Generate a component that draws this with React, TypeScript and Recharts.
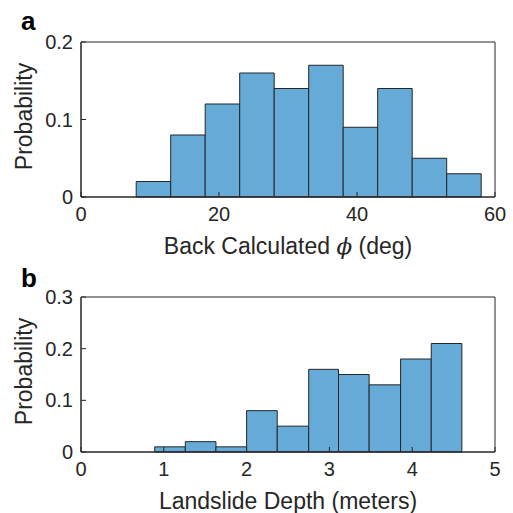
import React from 'react';
import {
  ComposedChart,
  XAxis,
  YAxis,
  ReferenceArea,
} from 'recharts';

// panel a: back calculated friction angle (deg)
const phiEdges = [8, 13, 18, 23, 28, 33, 38, 43, 48, 53, 58];
const phiProb = [0.02, 0.08, 0.12, 0.16, 0.14, 0.17, 0.09, 0.14, 0.05, 0.03];
const phiTicksX = [0, 20, 40, 60];
const phiTicksY = [0, 0.1, 0.2];

// panel b: landslide depth (m)
const depthEdges = [0.89, 1.26, 1.63, 2.0, 2.37, 2.75, 3.11, 3.48, 3.86, 4.23, 4.6];
const depthProb = [0.01, 0.02, 0.01, 0.08, 0.05, 0.16, 0.15, 0.13, 0.18, 0.21];
const depthTicksX = [0, 1, 2, 3, 4, 5];
const depthTicksY = [0, 0.1, 0.2, 0.3];

const INK = '#262626';
const FACE = '#66AAD7';
const FONT = '"Liberation Sans", Arial, sans-serif';

const toBins = (edges: number[], probs: number[]) =>
  probs.map((p, i) => ({ lo: edges[i], hi: edges[i + 1], mid: (edges[i] + edges[i + 1]) / 2, p }));

const XTick = (props: any) => {
  const { x, y, payload } = props;
  return (
    <text x={x} y={y + 27} textAnchor="middle" fill={INK} fontSize={20} fontFamily={FONT}>
      {payload.value}
    </text>
  );
};

const YTick = (props: any) => {
  const { y, payload } = props;
  return (
    <text x={73} y={y + 7} textAnchor="end" fill={INK} fontSize={20} fontFamily={FONT}>
      {payload.value}
    </text>
  );
};

const xTitle = (content: React.ReactNode) => (props: any) => {
  const { x, y, width } = props.viewBox;
  return (
    <text x={x + width / 2} y={y + 57} textAnchor="middle" fill={INK} fontSize={23} fontFamily={FONT}>
      {content}
    </text>
  );
};

const yTitle = (props: any) => {
  const { y, height } = props.viewBox;
  const cy = y + height / 2 - 3;
  return (
    <text
      x={32}
      y={cy}
      transform={`rotate(-90, 32, ${cy})`}
      textAnchor="middle"
      fill={INK}
      fontSize={23}
      fontFamily={FONT}
    >
      Probability
    </text>
  );
};

interface HistProps {
  edges: number[];
  probs: number[];
  xDomain: [number, number];
  yDomain: [number, number];
  xTicks: number[];
  yTicks: number[];
  title: React.ReactNode;
  height: number;
  top: number;
}

const Histogram: React.FC<HistProps> = ({ edges, probs, xDomain, yDomain, xTicks, yTicks, title, height, top }) => {
  const bins = toBins(edges, probs);
  return (
    <ComposedChart
      width={513}
      height={height}
      data={bins}
      margin={{ top, right: 18, bottom: 0, left: 0 }}
    >
      <XAxis
        type="number"
        dataKey="mid"
        domain={xDomain}
        ticks={xTicks}
        allowDataOverflow
        height={height - top - 155}
        tickSize={-5}
        tickLine={{ stroke: INK }}
        axisLine={{ stroke: INK }}
        tick={<XTick />}
        label={xTitle(title)}
      />
      <YAxis
        type="number"
        domain={yDomain}
        ticks={yTicks}
        allowDataOverflow
        width={81}
        tickSize={-5}
        tickLine={{ stroke: INK }}
        axisLine={{ stroke: INK }}
        tick={<YTick />}
        label={yTitle}
      />
      {bins.map((b, i) => (
        <ReferenceArea
          key={i}
          x1={b.lo}
          x2={b.hi}
          y1={0}
          y2={b.p}
          fill={FACE}
          fillOpacity={1}
          stroke={INK}
          strokeWidth={1}
        />
      ))}
      {/* axes box, top and right edges */}
      <ReferenceArea
        x1={xDomain[0]}
        x2={xDomain[1]}
        y1={yDomain[0]}
        y2={yDomain[1]}
        fill="none"
        stroke={INK}
        strokeWidth={1}
      />
    </ComposedChart>
  );
};

const panelLetter: React.CSSProperties = {
  position: 'absolute',
  left: 21,
  fontFamily: FONT,
  fontWeight: 'bold',
  fontSize: 26,
  lineHeight: '26px',
  color: '#000',
};

export default function App() {
  return (
    <div style={{ position: 'absolute', left: 0, top: 0, width: 513, height: 513, background: '#fff' }}>
      <div style={{ position: 'absolute', left: 0, top: 0 }}>
        <Histogram
          edges={phiEdges}
          probs={phiProb}
          xDomain={[0, 60]}
          yDomain={[0, 0.2]}
          xTicks={phiTicksX}
          yTicks={phiTicksY}
          height={264}
          top={42}
          title={
            <>
              Back Calculated <tspan fontStyle="italic" fontFamily='"DejaVu Serif", serif'>ϕ</tspan> (deg)
            </>
          }
        />
      </div>
      <div style={{ position: 'absolute', left: 0, top: 256 }}>
        <Histogram
          edges={depthEdges}
          probs={depthProb}
          xDomain={[0, 5]}
          yDomain={[0, 0.3]}
          xTicks={depthTicksX}
          yTicks={depthTicksY}
          height={257}
          top={41}
          title="Landslide Depth (meters)"
        />
      </div>
      <div style={{ ...panelLetter, top: 8 }}>a</div>
      <div style={{ ...panelLetter, top: 265 }}>b</div>
    </div>
  );
}
